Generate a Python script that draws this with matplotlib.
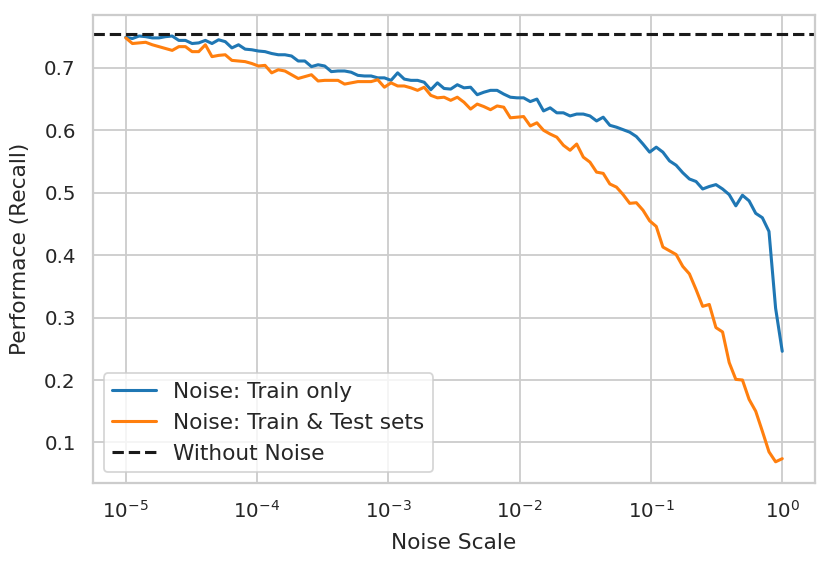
import numpy as np
import matplotlib.pyplot as plt
import seaborn as sns

# noise scales, 100 log-spaced points from 1e-5 to 1
noise_scale = np.logspace(-5, 0, 100)

recall_train_only = [
    0.749, 0.747, 0.751, 0.750, 0.748, 0.748, 0.750, 0.751, 0.744, 0.744,
    0.739, 0.740, 0.744, 0.739, 0.745, 0.742, 0.732, 0.737, 0.730, 0.729,
    0.727, 0.726, 0.723, 0.721, 0.721, 0.719, 0.711, 0.711, 0.702, 0.705,
    0.703, 0.694, 0.695, 0.695, 0.693, 0.688, 0.687, 0.687, 0.684, 0.684,
    0.680, 0.692, 0.682, 0.680, 0.680, 0.677, 0.665, 0.676, 0.667, 0.666,
    0.673, 0.668, 0.669, 0.657, 0.661, 0.664, 0.664, 0.658, 0.653, 0.652,
    0.652, 0.646, 0.650, 0.631, 0.636, 0.628, 0.628, 0.623, 0.626, 0.626,
    0.623, 0.615, 0.621, 0.608, 0.605, 0.601, 0.597, 0.590, 0.578, 0.565,
    0.573, 0.565, 0.551, 0.544, 0.532, 0.522, 0.518, 0.506, 0.510, 0.513,
    0.506, 0.497, 0.479, 0.496, 0.487, 0.467, 0.460, 0.438, 0.315, 0.246,
]

recall_train_test = [
    0.748, 0.739, 0.740, 0.741, 0.737, 0.734, 0.731, 0.728, 0.734, 0.734,
    0.726, 0.726, 0.737, 0.718, 0.720, 0.721, 0.712, 0.711, 0.710, 0.707,
    0.703, 0.704, 0.692, 0.697, 0.695, 0.689, 0.683, 0.686, 0.689, 0.679,
    0.680, 0.680, 0.680, 0.674, 0.676, 0.678, 0.678, 0.678, 0.681, 0.669,
    0.676, 0.671, 0.671, 0.668, 0.664, 0.669, 0.656, 0.652, 0.653, 0.648,
    0.653, 0.645, 0.634, 0.642, 0.638, 0.633, 0.639, 0.637, 0.620, 0.621,
    0.622, 0.607, 0.612, 0.600, 0.594, 0.589, 0.576, 0.568, 0.578, 0.557,
    0.549, 0.533, 0.531, 0.514, 0.509, 0.497, 0.483, 0.484, 0.472, 0.455,
    0.446, 0.413, 0.407, 0.401, 0.382, 0.370, 0.345, 0.318, 0.321, 0.284,
    0.277, 0.228, 0.201, 0.200, 0.169, 0.150, 0.118, 0.085, 0.069, 0.074,
]

recall_no_noise = 0.755

sns.set_theme(style='whitegrid', context='notebook')
plt.rcParams['font.family'] = ['DejaVu Sans']

fig, ax = plt.subplots(figsize=(830 / 130, 567 / 130), dpi=130)
fig.subplots_adjust(left=0.112, right=0.982, bottom=0.148, top=0.974)

ax.plot(noise_scale, recall_train_only, color='tab:blue', lw=1.7, label='Noise: Train only')
ax.plot(noise_scale, recall_train_test, color='tab:orange', lw=1.7, label='Noise: Train & Test sets')
ax.axhline(recall_no_noise, color='k', ls='--', lw=1.7, label='Without Noise')

ax.set_xscale('log')
ax.set_xlabel('Noise Scale', fontsize=12, labelpad=6)
ax.set_ylabel('Performace (Recall)', fontsize=12, labelpad=8)
ax.tick_params(labelsize=11)
ax.legend(loc='lower left', fontsize=12)

plt.savefig('out.png', dpi=130)
